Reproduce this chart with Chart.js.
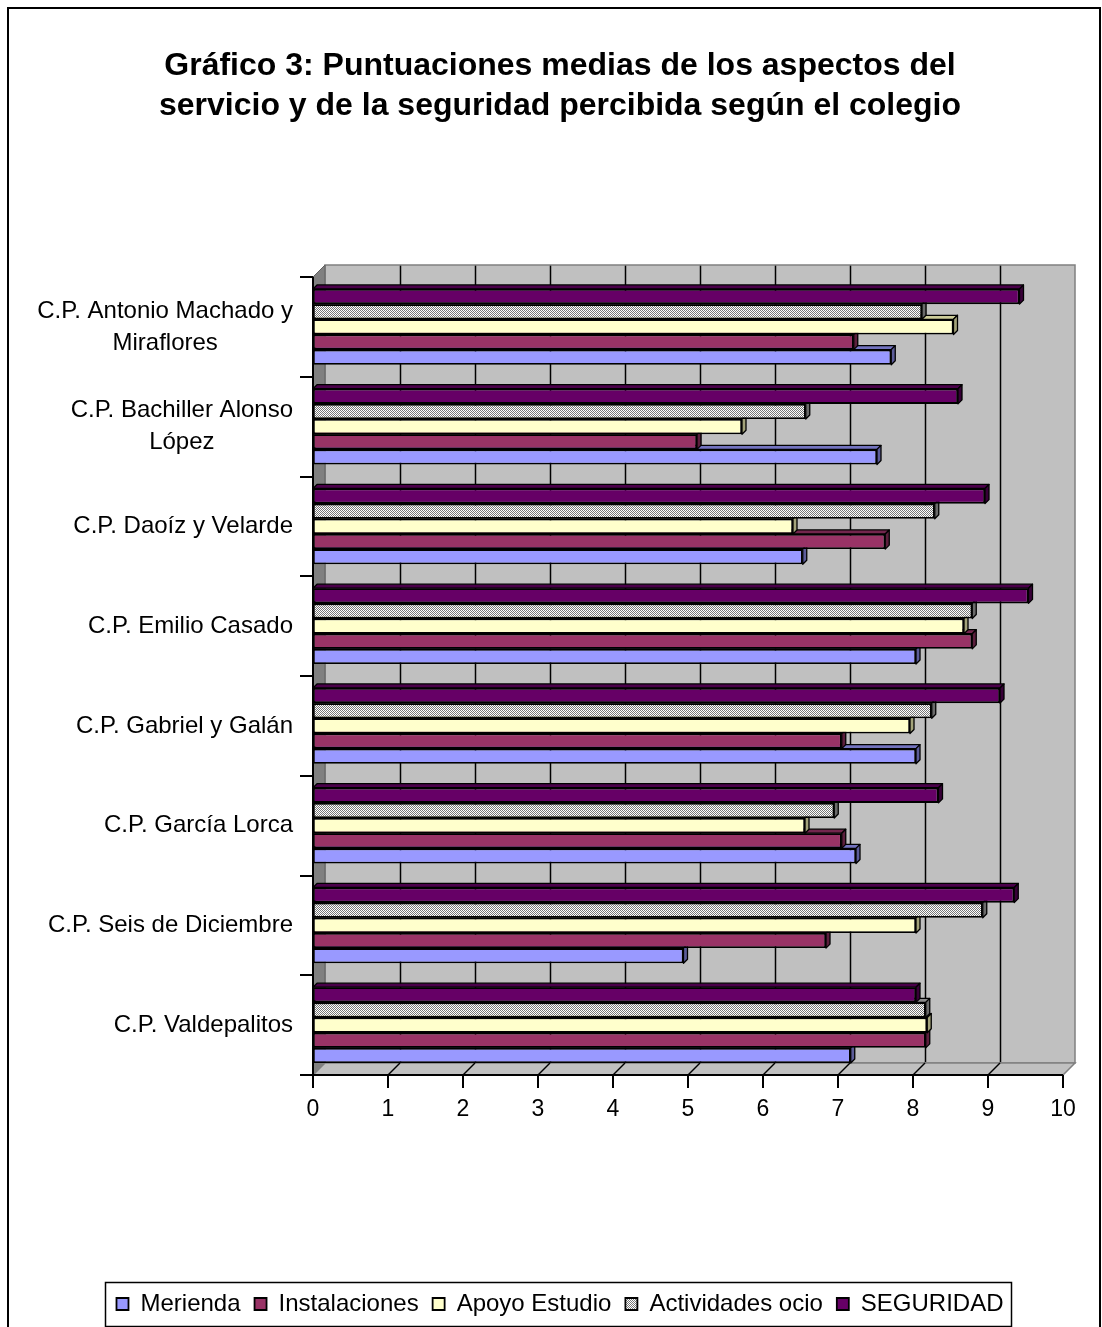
<!DOCTYPE html>
<html><head><meta charset="utf-8">
<script src="https://cdn.jsdelivr.net/npm/chart.js@4.4.1/dist/chart.umd.min.js"></script>
<style>html,body{margin:0;padding:0;background:#fff}canvas{display:block}</style>
</head><body>
<canvas id="c" width="1102" height="1327" style="width:1102px;height:1327px"></canvas>
<script>
const categories = [
  ['C.P. Antonio Machado y', 'Miraflores'],
  ['C.P. Bachiller Alonso', 'López'],
  ['C.P. Daoíz y Velarde'],
  ['C.P. Emilio Casado'],
  ['C.P. Gabriel y Galán'],
  ['C.P. García Lorca'],
  ['C.P. Seis de Diciembre'],
  ['C.P. Valdepalitos']
];
const merienda        = [7.71, 7.52, 6.53, 8.04, 8.04, 7.24, 4.94, 7.17];
const instalaciones   = [7.21, 5.12, 7.63, 8.79, 7.05, 7.05, 6.84, 8.17];
const apoyoEstudio    = [8.54, 5.72, 6.40, 8.68, 7.96, 6.56, 8.04, 8.19];
const actividadesOcio = [8.12, 6.57, 8.29, 8.79, 8.25, 6.95, 8.93, 8.17];
const seguridad       = [9.42, 8.60, 8.96, 9.54, 9.16, 8.34, 9.35, 8.04];
const xTicks = [0, 1, 2, 3, 4, 5, 6, 7, 8, 9, 10];
const titleLines = ['Gráfico 3: Puntuaciones medias de los aspectos del', 'servicio y de la seguridad percibida según el colegio'];

const FONT = "'Liberation Sans', Arial, sans-serif";
const canvas = document.getElementById('c');
const ctx0 = canvas.getContext('2d');

function makePattern() {
  const c = document.createElement('canvas'); c.width = 2; c.height = 2;
  const g = c.getContext('2d');
  g.fillStyle = '#FFFFFF'; g.fillRect(0, 0, 2, 2);
  g.fillStyle = '#777777'; g.fillRect(0, 0, 1, 1); g.fillRect(1, 1, 1, 1);
  return ctx0.createPattern(c, 'repeat');
}
const pattern = makePattern();

const datasets = [
  { label: 'SEGURIDAD', data: seguridad, backgroundColor: '#660066', topColor: '#4a004a', sideColor: '#380038' },
  { label: 'Actividades ocio', data: actividadesOcio, backgroundColor: pattern, topColor: '#8c8c8c', sideColor: '#6a6a6a' },
  { label: 'Apoyo Estudio', data: apoyoEstudio, backgroundColor: '#FFFFCC', topColor: '#cccc99', sideColor: '#a3a37a' },
  { label: 'Instalaciones', data: instalaciones, backgroundColor: '#993366', topColor: '#73264d', sideColor: '#5c1f3d' },
  { label: 'Merienda', data: merienda, backgroundColor: '#9999FF', topColor: '#7373bf', sideColor: '#5c5c99' }
].map(d => Object.assign(d, { borderColor: '#000000', borderWidth: 1.8, borderSkipped: false }));

const D = 12;   // wall depth
const BD = 4;   // bar depth

const threeD = {
  id: 'threeD',
  beforeDatasetsDraw(chart) {
    const ctx = chart.ctx, xs = chart.scales.x, ys = chart.scales.y;
    const x0 = xs.getPixelForValue(0), x1 = xs.getPixelForValue(10);
    const top = ys.top, bot = ys.bottom;
    ctx.save();
    ctx.fillStyle = '#C0C0C0';
    ctx.fillRect(x0 + D, top - D, x1 - x0, bot - top);
    ctx.strokeStyle = '#000'; ctx.lineWidth = 1.5;
    for (let v = 1; v < 10; v++) {
      const px = Math.round(xs.getPixelForValue(v) + D) + 0.5;
      ctx.beginPath(); ctx.moveTo(px, top - D); ctx.lineTo(px, bot - D); ctx.stroke();
    }
    ctx.strokeStyle = '#808080'; ctx.lineWidth = 1.5;
    ctx.strokeRect(x0 + D, top - D, x1 - x0, bot - top);
    ctx.fillStyle = '#808080';
    ctx.beginPath(); ctx.moveTo(x0, top); ctx.lineTo(x0 + D, top - D); ctx.lineTo(x0 + D, bot - D); ctx.lineTo(x0, bot); ctx.closePath(); ctx.fill();
    ctx.strokeStyle = '#606060'; ctx.lineWidth = 1; ctx.stroke();
    ctx.fillStyle = '#C0C0C0';
    ctx.beginPath(); ctx.moveTo(x0, bot); ctx.lineTo(x1, bot); ctx.lineTo(x1 + D, bot - D); ctx.lineTo(x0 + D, bot - D); ctx.closePath(); ctx.fill();
    ctx.strokeStyle = '#808080'; ctx.lineWidth = 1.5; ctx.stroke();
    ctx.strokeStyle = '#000'; ctx.lineWidth = 1.5;
    for (let v = 1; v < 10; v++) {
      const px = xs.getPixelForValue(v);
      ctx.beginPath(); ctx.moveTo(px, bot); ctx.lineTo(px + D, bot - D); ctx.stroke();
    }
    ctx.restore();
  },
  afterDatasetDraw(chart, args) {
    const ctx = chart.ctx;
    const meta = args.meta;
    const ds = chart.data.datasets[args.index];
    ctx.save();
    ctx.strokeStyle = '#000'; ctx.lineWidth = 1.3; ctx.lineJoin = 'round';
    meta.data.forEach(el => {
      const p = el.getProps(['x', 'y', 'base', 'height'], true);
      const t = p.y - p.height / 2, b = p.y + p.height / 2;
      const xe = p.x, xb = p.base;
      ctx.fillStyle = ds.topColor;
      ctx.beginPath(); ctx.moveTo(xb, t); ctx.lineTo(xb + BD, t - BD); ctx.lineTo(xe + BD, t - BD); ctx.lineTo(xe, t); ctx.closePath(); ctx.fill(); ctx.stroke();
      ctx.fillStyle = ds.sideColor;
      ctx.beginPath(); ctx.moveTo(xe, t); ctx.lineTo(xe + BD, t - BD); ctx.lineTo(xe + BD, b - BD); ctx.lineTo(xe, b); ctx.closePath(); ctx.fill(); ctx.stroke();
    });
    ctx.restore();
  },
  afterDraw(chart) {
    const ctx = chart.ctx, xs = chart.scales.x, ys = chart.scales.y;
    const x0 = xs.getPixelForValue(0), x1 = xs.getPixelForValue(10);
    const top = ys.top, bot = ys.bottom;
    ctx.save();
    ctx.strokeStyle = '#000'; ctx.lineWidth = 2;
    ctx.beginPath(); ctx.moveTo(x0, top); ctx.lineTo(x0, bot); ctx.stroke();
    const band = ys.getPixelForValue(1) - ys.getPixelForValue(0);
    for (let i = 0; i <= categories.length; i++) {
      const py = Math.round(ys.getPixelForValue(0) - band / 2 + i * band);
      ctx.beginPath(); ctx.moveTo(x0 - 13, py); ctx.lineTo(x0, py); ctx.stroke();
    }
    ctx.beginPath(); ctx.moveTo(x0 - 13, bot); ctx.lineTo(x1, bot); ctx.stroke();
    xTicks.forEach(v => {
      const px = xs.getPixelForValue(v);
      ctx.beginPath(); ctx.moveTo(px, bot); ctx.lineTo(px, bot + 13); ctx.stroke();
    });
    ctx.fillStyle = '#000';
    ctx.font = '24px ' + FONT;
    ctx.textBaseline = 'middle'; ctx.textAlign = 'center';
    const rightX = x0 - 20, lh = 32;
    categories.forEach((lines, i) => {
      const cy = ys.getPixelForValue(i);
      const w = Math.max(...lines.map(l => ctx.measureText(l).width));
      const cx = rightX - w / 2;
      lines.forEach((l, k) => {
        ctx.fillText(l, cx, cy + (k - (lines.length - 1) / 2) * lh);
      });
    });
    const hb = chart.legend.legendHitBoxes;
    if (hb && hb.length) {
      const l = Math.min(...hb.map(h => h.left)) - 11;
      const r = Math.max(...hb.map(h => h.left + h.width)) + 8;
      const cy = hb[0].top + hb[0].height / 2;
      ctx.lineWidth = 1.5; ctx.strokeStyle = '#000';
      ctx.strokeRect(Math.round(l) + 0.5, Math.round(cy - 22) + 0.5, Math.round(r - l), 44);
    }
    ctx.lineWidth = 2;
    ctx.strokeRect(8, 8, 1092, 1340);
    ctx.restore();
  }
};

new Chart(canvas, {
  type: 'bar',
  data: { labels: categories, datasets },
  options: {
    indexAxis: 'y',
    responsive: false,
    animation: false,
    devicePixelRatio: 1,
    categoryPercentage: 0.76,
    barPercentage: 1,
    layout: { padding: { left: 18, right: 0, top: 0, bottom: 1 } },
    plugins: {
      tooltip: { enabled: false },
      title: {
        display: true, text: titleLines, color: '#000',
        font: { family: FONT, size: 32, weight: 'bold', lineHeight: 1.25 },
        padding: { top: 46, bottom: 151 }
      },
      legend: {
        display: true, position: 'bottom', reverse: true,
        labels: { color: '#000', font: { family: FONT, size: 24 }, boxWidth: 12, boxHeight: 12, padding: 14 }
      }
    },
    scales: {
      x: {
        type: 'linear', position: 'bottom', min: 0, max: 10,
        ticks: { stepSize: 1, padding: 21, color: '#000', font: { family: FONT, size: 23 },
                 callback: v => xTicks.includes(v) ? String(v) : '' },
        grid: { display: false, drawTicks: false }, border: { display: false },
        afterFit(s) { s.height = 203; }
      },
      y: {
        type: 'category', position: 'left', offset: true,
        ticks: { display: false }, grid: { display: false, drawTicks: false }, border: { display: false },
        afterFit(s) { s.width = 295; }
      },
      y2: {
        type: 'linear', position: 'right', display: true,
        ticks: { display: false }, grid: { display: false, drawTicks: false }, border: { display: false },
        afterFit(s) { s.width = 39; }
      }
    }
  },
  plugins: [threeD]
});
</script>
</body></html>
